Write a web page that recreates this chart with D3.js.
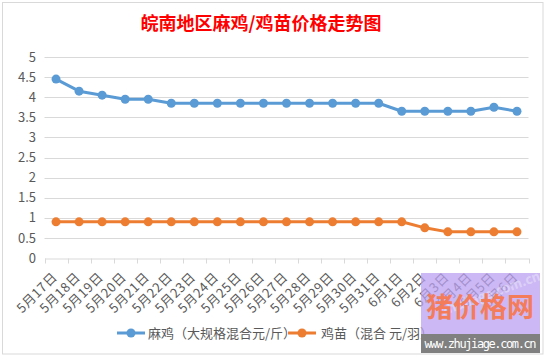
<!DOCTYPE html>
<html><head><meta charset="utf-8">
<script src="https://cdn.jsdelivr.net/npm/d3@7/dist/d3.min.js"></script>
<style>body{margin:0;background:#fff;}svg{display:block;font-family:"Noto Sans CJK SC","Microsoft YaHei",sans-serif;}</style>
</head><body>
<script>
const categories = ["5月17日","5月18日","5月19日","5月20日","5月21日","5月22日","5月23日","5月24日","5月25日","5月26日","5月27日","5月28日","5月29日","5月30日","5月31日","6月1日","6月2日","6月3日","6月4日","6月5日","6月6日"];
const maji = [4.45,4.15,4.05,3.95,3.95,3.85,3.85,3.85,3.85,3.85,3.85,3.85,3.85,3.85,3.85,3.65,3.65,3.65,3.65,3.75,3.65];
const jimiao = [0.9,0.9,0.9,0.9,0.9,0.9,0.9,0.9,0.9,0.9,0.9,0.9,0.9,0.9,0.9,0.9,0.75,0.65,0.65,0.65,0.65];
const yTicks = [0,0.5,1,1.5,2,2.5,3,3.5,4,4.5,5];
const seriesNames = ["麻鸡（大规格混合元/斤）","鸡苗（混合 元/羽）"];
const title = "皖南地区麻鸡/鸡苗价格走势图";

const W=546,H=358;
const svg=d3.select("body").append("svg").attr("width",W).attr("height",H);
svg.append("rect").attr("x",2.5).attr("y",2.5).attr("width",540.5).attr("height",351.5).attr("fill","#fff").attr("stroke","#d9d9d9");

const x=d3.scaleBand().domain(categories).range([44.5,528.5]);
const y=d3.scaleLinear().domain([0,5]).range([258,57]);

svg.append("text").attr("x",261).attr("y",30).attr("text-anchor","middle").attr("fill","#ff0000").attr("font-size",18).attr("font-weight","bold").text(title);

// grid
svg.append("g").selectAll("line").data(yTicks.filter(d=>d>0)).join("line")
 .attr("x1",44.5).attr("x2",528.5).attr("y1",d=>Math.round(y(d))+0.5).attr("y2",d=>Math.round(y(d))+0.5).attr("stroke","#d9d9d9");

// y axis labels
const ya=svg.append("g").attr("transform","translate(44,0)").call(d3.axisLeft(y).tickValues(yTicks).tickSize(0).tickPadding(8).tickFormat(d=>String(d)));
ya.select(".domain").remove();
ya.selectAll("text").attr("fill","#595959").attr("font-size",13).attr("font-family","'Noto Sans CJK SC',sans-serif");

// x axis
const xa=svg.append("g").attr("transform",`translate(0,${Math.round(y(0))+0.5})`).call(d3.axisBottom(x).tickSize(0).tickFormat(""));
xa.select(".domain").attr("stroke","#d9d9d9");
const bounds=categories.map(c=>x(c)).concat([x(categories[categories.length-1])+x.bandwidth()]);
xa.selectAll(".bt").data(bounds).join("line").attr("class","bt").attr("x1",d=>Math.round(d)+0.5).attr("x2",d=>Math.round(d)+0.5).attr("y1",0).attr("y2",5).attr("stroke","#d9d9d9");
svg.append("g").selectAll("text").data(categories).join("text")
 .attr("transform",d=>`translate(${x(d)+x.bandwidth()/2+2},${278}) rotate(-45)`)
 .attr("text-anchor","end").attr("fill","#595959").attr("font-size",13).attr("letter-spacing","0.6px").text(d=>d);

// lines
const line=d3.line().x((d,i)=>x(categories[i])+x.bandwidth()/2).y(d=>y(d));
const colors=["#5b9bd5","#ed7d31"];
[maji,jimiao].forEach((s,k)=>{
 svg.append("path").datum(s).attr("d",line).attr("fill","none").attr("stroke",colors[k]).attr("stroke-width",3).attr("stroke-linejoin","round");
 svg.append("g").selectAll("circle").data(s).join("circle").attr("cx",(d,i)=>x(categories[i])+x.bandwidth()/2).attr("cy",d=>y(d)).attr("r",4.5).attr("fill",colors[k]);
});

// legend
const leg=[{x:117,t:148},{x:288,t:321}];
leg.forEach((l,k)=>{
 svg.append("line").attr("x1",l.x).attr("x2",l.x+28).attr("y1",333).attr("y2",333).attr("stroke",colors[k]).attr("stroke-width",3);
 svg.append("circle").attr("cx",l.x+14).attr("cy",333).attr("r",4.5).attr("fill",colors[k]);
 svg.append("text").attr("x",l.t).attr("y",338).attr("fill","#595959").attr("font-size",13).text(seriesNames[k]);
});

// watermark
svg.append("rect").attr("x",421).attr("y",273).attr("width",119).attr("height",61).attr("fill","#b9a0f0").attr("opacity",0.75);
svg.append("text").attr("x",440).attr("y",302).attr("fill","#ffffff").attr("opacity",0.35).attr("font-size",13).attr("font-weight","bold").attr("transform","rotate(-20,480,300)").text("zhujiage.com.cn");
svg.append("text").attr("x",480).attr("y",317).attr("text-anchor","middle").attr("fill","#f47c5a").attr("font-size",27).attr("font-weight","bold").text("猪价格网");
svg.append("rect").attr("x",421).attr("y",334).attr("width",119).attr("height",19).attr("fill","#808080");
svg.append("text").attr("x",480.5).attr("y",348).attr("text-anchor","middle").attr("fill","#fff").attr("font-size",12).attr("font-family","'DejaVu Sans Mono',monospace").attr("textLength",112).text("www.zhujiage.com.cn");
</script>
</body></html>
